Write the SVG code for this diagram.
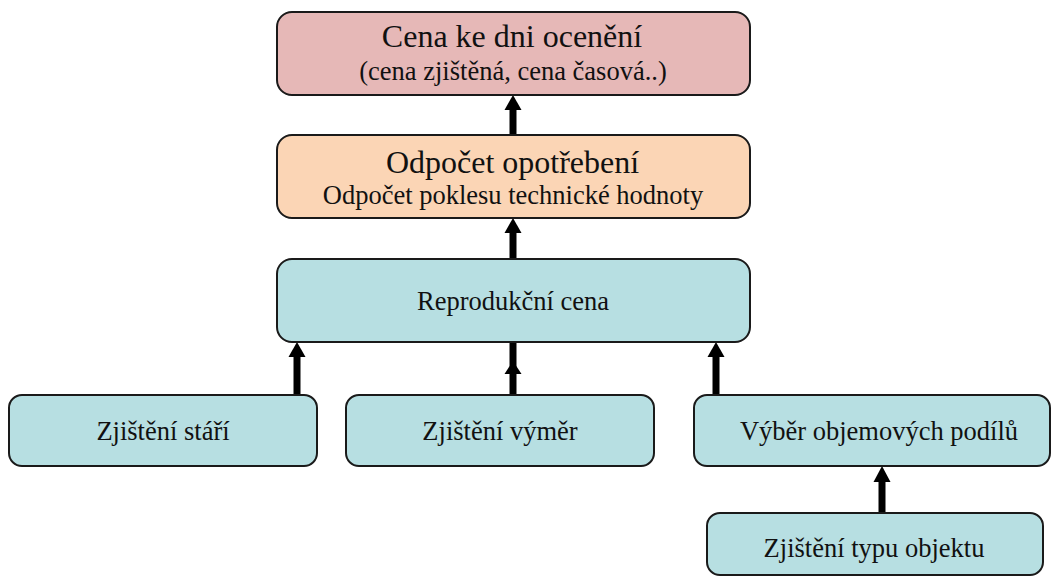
<svg xmlns="http://www.w3.org/2000/svg" width="1053" height="577" viewBox="0 0 1053 577">
<style>
.box{stroke:#1a1a1a;stroke-width:2}
.pink{fill:#e6b8b7}
.peach{fill:#fbd5b5}
.blue{fill:#b7dfe2}
text{fill:#111;text-anchor:middle}
.big{font-size:32px}
.med{font-size:26.5px}
.shaft{stroke:#000;stroke-width:7;fill:none}
.head{fill:#000}
</style>
<rect width="1053" height="577" fill="#fff"/>
<g id="connectors">
<line class="shaft" x1="513" y1="135" x2="513" y2="108"/>
<polygon class="head" points="513,95 504.5,110 521.5,110"/>
<line class="shaft" x1="513" y1="259" x2="513" y2="231"/>
<polygon class="head" points="513,218 504.5,233 521.5,233"/>
<line class="shaft" x1="297" y1="395" x2="297" y2="355"/>
<polygon class="head" points="297,342 288.5,357 305.5,357"/>
<line class="shaft" x1="513" y1="395" x2="513" y2="342"/>
<polygon class="head" points="513,361 504.5,374 521.5,374"/>
<line class="shaft" x1="716" y1="395" x2="716" y2="355"/>
<polygon class="head" points="716,342 707.5,357 724.5,357"/>
<line class="shaft" x1="882" y1="513" x2="882" y2="480"/>
<polygon class="head" points="882,466 873.5,482 890.5,482"/>
</g>
<g font-family="Liberation Serif, DejaVu Serif, serif">
<g id="cena-ke-dni">
<rect class="box pink" x="277" y="12" width="473" height="83" rx="15"/>
<text class="big" x="512" y="47">Cena ke dni ocenění</text>
<text class="med" x="513" y="80">(cena zjištěná, cena časová..)</text>
</g>
<g id="odpocet">
<rect class="box peach" x="277" y="135" width="473" height="83" rx="15"/>
<text class="big" x="512.5" y="173">Odpočet opotřebení</text>
<text class="med" x="513" y="204">Odpočet poklesu technické hodnoty</text>
</g>
<g id="reprodukcni-cena">
<rect class="box blue" x="277" y="259" width="473" height="83" rx="15"/>
<text class="med" x="513" y="310">Reprodukční cena</text>
</g>
<g id="zjisteni-stari">
<rect class="box blue" x="9" y="395" width="308" height="71" rx="13"/>
<text class="med" x="163" y="440">Zjištění stáří</text>
</g>
<g id="zjisteni-vymer">
<rect class="box blue" x="346" y="395" width="308" height="71" rx="13"/>
<text class="med" x="500" y="440">Zjištění výměr</text>
</g>
<g id="vyber-objemovych">
<rect class="box blue" x="694" y="395" width="356" height="71" rx="13"/>
<text class="med" x="879" y="440">Výběr objemových podílů</text>
</g>
<g id="zjisteni-typu">
<rect class="box blue" x="707" y="513" width="336" height="62" rx="13"/>
<text class="med" x="874" y="557">Zjištění typu objektu</text>
</g>
</g>
</svg>
